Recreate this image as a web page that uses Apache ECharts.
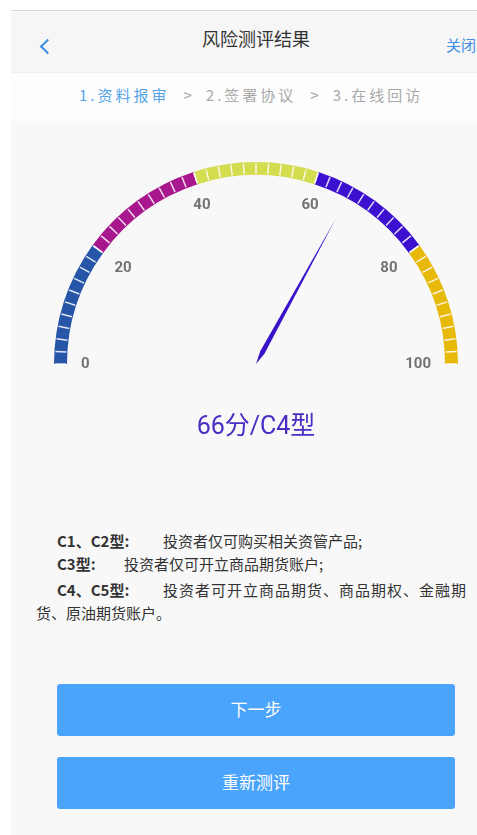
<!DOCTYPE html>
<html>
<head>
<meta charset="utf-8">
<script src="https://cdn.jsdelivr.net/npm/echarts@6/dist/echarts.min.js"></script>
<style>
  html, body { margin:0; padding:0; width:477px; height:835px; background:#ffffff; overflow:hidden; font-family:"Noto Sans CJK SC","Noto Sans",sans-serif; }
  #page { position:absolute; left:11px; top:10px; width:466px; height:825px; background:#f8f8f8; border-top:1px solid #d9d9d9; }
  #header { position:absolute; left:0; top:0; width:466px; height:61px; background:#f6f6f6; border-bottom:1px solid #eeeeee; }
  #title { position:absolute; left:0; top:14px; width:490px; text-align:center; font-size:18px; color:#333; }
  #back { position:absolute; left:31px; top:30px; width:9px; height:9px; border-left:2px solid #3d8ee6; border-bottom:2px solid #3d8ee6; transform:rotate(45deg); }
  #close { position:absolute; left:435px; top:23px; font-size:15px; color:#3d8ee6; white-space:nowrap; }
  #steps { position:absolute; left:0; top:62px; width:466px; height:48px; background:#fdfdfd; }
  #stepText { position:absolute; left:68px; top:11px; font-size:15px; letter-spacing:3px; white-space:nowrap; color:#a9a9a9; }
  #stepText .on { color:#53a3e6; }
  #stepText .arr { margin:0 11px 0 14px; }
  .line { position:absolute; font-size:15px; color:#333; white-space:nowrap; }
  .line b { font-weight:bold; }
  .btn { position:absolute; left:46px; width:398px; height:52px; background:#4aa4fc; border-radius:3px; color:#fff; font-size:17px; text-align:center; line-height:50px; }
  #chart { position:absolute; left:0; top:0; width:477px; height:470px; }
</style>
</head>
<body>
<div id="page">
  <div id="header">
    <div id="back"></div>
    <div id="title">风险测评结果</div>
    <div id="close">关闭</div>
  </div>
  <div id="steps">
    <div id="stepText"><span class="on">1.资料报审</span><span class="arr">&gt;</span>2.签署协议<span class="arr">&gt;</span>3.在线回访</div>
  </div>
  <div class="line" style="left:46px;top:519px;"><b>C1、C2型:</b></div>
  <div class="line" style="left:152px;top:519px;">投资者仅可购买相关资管产品;</div>
  <div class="line" style="left:46px;top:542px;"><b>C3型:</b></div>
  <div class="line" style="left:113px;top:542px;">投资者仅可开立商品期货账户;</div>
  <div class="line" style="left:46px;top:568px;"><b>C4、C5型:</b></div>
  <div class="line" style="left:152px;top:568px;letter-spacing:1px;">投资者可开立商品期货、商品期权、金融期</div>
  <div class="line" style="left:25px;top:591px;">货、原油期货账户。</div>
  <div class="btn" style="top:673px;">下一步</div>
  <div class="btn" style="top:746px;">重新测评</div>
</div>
<div id="chart"></div>
<script>
// ---- data ----
const scoreValue = [66];
const riskType = ['C4'];
const bandStops = [0.2, 0.4, 0.6, 0.8, 1];
const bandColors = ['#2756a8', '#a8178d', '#d4dc4f', '#3b10cf', '#e6b90b'];
const tickLabels = ['0', '20', '40', '60', '80', '100'];

const chart = echarts.init(document.getElementById('chart'), null, {renderer:'canvas'});
chart.setOption({
  backgroundColor: 'transparent',
  animation: false,
  series: [{
    type: 'gauge',
    center: [256, 364],
    radius: 202,
    startAngle: 180,
    endAngle: 0,
    min: 0,
    max: 100,
    splitNumber: tickLabels.length - 1,
    axisLine: { lineStyle: { width: 13, color: bandStops.map((s, i) => [s, bandColors[i]]) } },
    axisTick: { show: true, splitNumber: 10, distance: -12, length: 11, lineStyle: { color: '#ffffff', width: 1.5, opacity: 0.85 } },
    splitLine: { show: false, length: 0, distance: 0 },
    axisLabel: {
      distance: 27, color: '#737373', fontSize: 15, fontWeight: 'bold', fontFamily: 'Roboto',
      formatter: v => {
        const i = Math.round(v / 20);
        return (i === 1 || i === 4) ? '{low|' + tickLabels[i] + '}' : tickLabels[i];
      },
      rich: { low: { padding: [14, 0, 0, 0], color: '#737373', fontSize: 15, fontWeight: 'bold', fontFamily: 'Roboto' } }
    },
    pointer: {
      icon: 'path://M5,0 L10,92 L5,100 L0,92 Z',
      length: '82%', width: 5, offsetCenter: [0, 0],
      itemStyle: { color: '#3a12c9' }
    },
    anchor: { show: false },
    title: { show: false },
    detail: {
      offsetCenter: [0, 64],
      fontSize: 25, fontWeight: 'normal', color: '#4b2dc4',
      fontFamily: 'Roboto, "Noto Sans CJK SC"',
      formatter: v => v + '分/' + riskType[0] + '型'
    },
    data: [{ value: scoreValue[0] }]
  }]
});
</script>
</body>
</html>
